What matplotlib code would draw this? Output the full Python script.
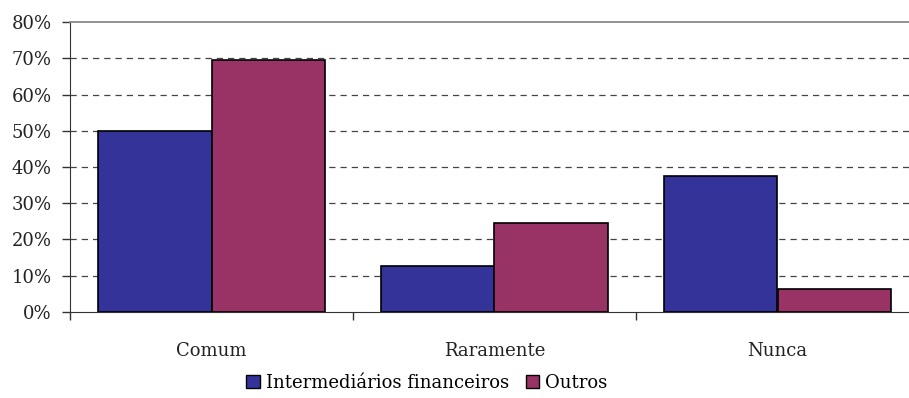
import matplotlib
matplotlib.use("Agg")
import matplotlib.pyplot as plt
from matplotlib.patches import Patch
import numpy as np

categories = ["Comum", "Raramente", "Nunca"]
series_names = ["Intermediários financeiros", "Outros"]
intermediarios = [50.0, 12.5, 37.5]
outros = [69.7, 24.5, 6.3]
y_ticks = [0, 10, 20, 30, 40, 50, 60, 70, 80]
y_tick_labels = [f"{v}%" for v in y_ticks]

colors = ["#333399", "#993366"]

plt.rcParams["font.family"] = ["DejaVu Serif"]
plt.rcParams["font.size"] = 13

fig = plt.figure(figsize=(9.09, 3.98), dpi=100)
ax = fig.add_axes([70 / 909, 1 - 311.7 / 398, (919 - 70) / 909, (311.7 - 22.3) / 398])

x = np.arange(len(categories))
w = 0.4
ax.bar(x - w / 2, intermediarios, width=w, color=colors[0], edgecolor="black",
       linewidth=1.2, zorder=3)
ax.bar(x + w / 2, outros, width=w, color=colors[1], edgecolor="black",
       linewidth=1.2, zorder=3)

ax.set_xlim(-0.5, len(categories) - 0.5)
ax.set_ylim(0, 80)

# y axis
ax.set_yticks(y_ticks)
ax.set_yticklabels(y_tick_labels, color="#222222")
ax.tick_params(axis="y", direction="out", length=6, width=1, pad=7, color="#333333")

# x axis: ticks at category boundaries, labels at centres
ax.set_xticks(np.arange(-0.5, len(categories)), minor=False)
ax.set_xticklabels([])
ax.set_xticks(x, minor=True)
ax.set_xticklabels(categories, minor=True, color="#222222")
ax.tick_params(axis="x", which="major", direction="out", length=6, width=1, color="#333333")
ax.tick_params(axis="x", which="minor", length=0, pad=22)

# dashed gridlines
for v in y_ticks[1:-1]:
    ax.axhline(v, color="#444444", linewidth=0.9, linestyle=(0, (5, 4)), zorder=1)

ax.spines["right"].set_visible(False)
ax.spines["top"].set_color("#888888")
ax.spines["top"].set_linewidth(1.3)
ax.spines["left"].set_color("#333333")
ax.spines["bottom"].set_color("#333333")

handles = [Patch(facecolor=c, edgecolor="black", linewidth=1.0) for c in colors]
fig.legend(handles, series_names, loc="center", bbox_to_anchor=(427 / 909, 1 - 383 / 398),
           ncol=2, frameon=False, handlelength=0.75, handleheight=0.75,
           handletextpad=0.35, columnspacing=0.9, borderpad=0)

fig.savefig("out.png", dpi=100, facecolor="white")
